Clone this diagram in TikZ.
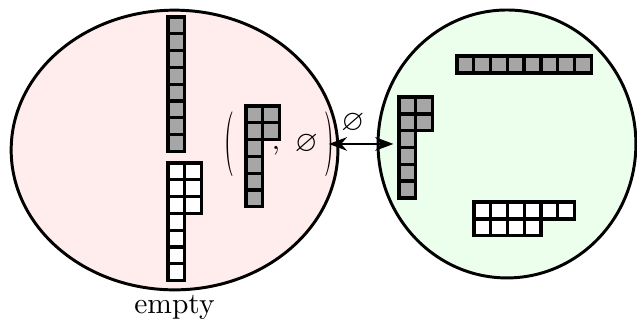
\documentclass[tikz,border=0pt]{standalone}
\usepackage{amsmath}
\usepackage{amssymb}
\usepackage{tikz}
\usetikzlibrary{arrows.meta,positioning,shapes.geometric}
\definecolor{lhsfill}{RGB}{255,236,236}
\definecolor{rhsfill}{RGB}{236,255,236}
\definecolor{boxgray}{RGB}{166,166,166}
\tikzset{
  blob/.style={ellipse, draw, line width=1pt, inner sep=0pt},
  gbox/.style={draw, line width=1.1pt, fill=boxgray},
  wbox/.style={draw, line width=1.1pt, fill=white},
  link/.style={Stealth-Stealth, line width=0.7pt}
}

\begin{document}
\begin{tikzpicture}[x=0.2cm,y=0.2cm]
  \useasboundingbox (0,0) rectangle (37.92,19.05);
  \node[blob, fill=lhsfill, minimum width=3.89cm, minimum height=3.33cm] (lhs) at (10.39,10.12) {};
  \node[blob, fill=rhsfill, minimum width=3.07cm, minimum height=3.19cm] (rhs) at (30.18,10.48) {};
  \node[below=1pt of lhs, inner sep=0pt] (cap) {empty};
  % left blob
  \begin{scope}[shift={(10,18.04)}]
    \foreach \r in {1,...,8}
      \draw[gbox] (0,-\r) rectangle ++(1,1);
  \end{scope}
  \begin{scope}[shift={(10,9.35)}]
    \foreach \c/\r in {0/1,1/1,0/2,1/2,0/3,1/3,0/4,0/5,0/6,0/7}
      \draw[wbox] (\c,-\r) rectangle ++(1,1);
  \end{scope}
  \begin{scope}[shift={(14.64,12.74)}]
    \foreach \c/\r in {0/1,1/1,0/2,1/2,0/3,0/4,0/5,0/6}
      \draw[gbox] (\c,-\r) rectangle ++(1,1);
  \end{scope}
  \node[inner sep=0pt] (lpar) at (13.63,10.48) {\scalebox{0.85}[2.2]{(}};
  \node[inner sep=0pt, anchor=base] (comma) at (16.43,10.13) {,};
  \node[inner sep=0pt] (pnull) at (18.24,10.48) {$\varnothing$};
  \node[inner sep=0pt] (rpar) at (19.58,10.48) {\scalebox{0.85}[2.2]{)}};
  % right blob
  \begin{scope}[shift={(27.20,15.71)}]
    \foreach \c in {0,...,7}
      \draw[gbox] (\c,-1) rectangle ++(1,1);
  \end{scope}
  \begin{scope}[shift={(23.75,13.27)}]
    \foreach \c/\r in {0/1,1/1,0/2,1/2,0/3,0/4,0/5,0/6}
      \draw[gbox] (\c,-\r) rectangle ++(1,1);
  \end{scope}
  \begin{scope}[shift={(28.21,7.02)}]
    \foreach \c/\r in {0/1,1/1,2/1,3/1,4/1,5/1,0/2,1/2,2/2,3/2}
      \draw[wbox] (\c,-\r) rectangle ++(1,1);
  \end{scope}
  \draw[link, shorten >=-5.7pt] (rpar.center) -- (rhs.west)
    node[midway, above] (anull) {$\varnothing$};
\end{tikzpicture}
\end{document}
